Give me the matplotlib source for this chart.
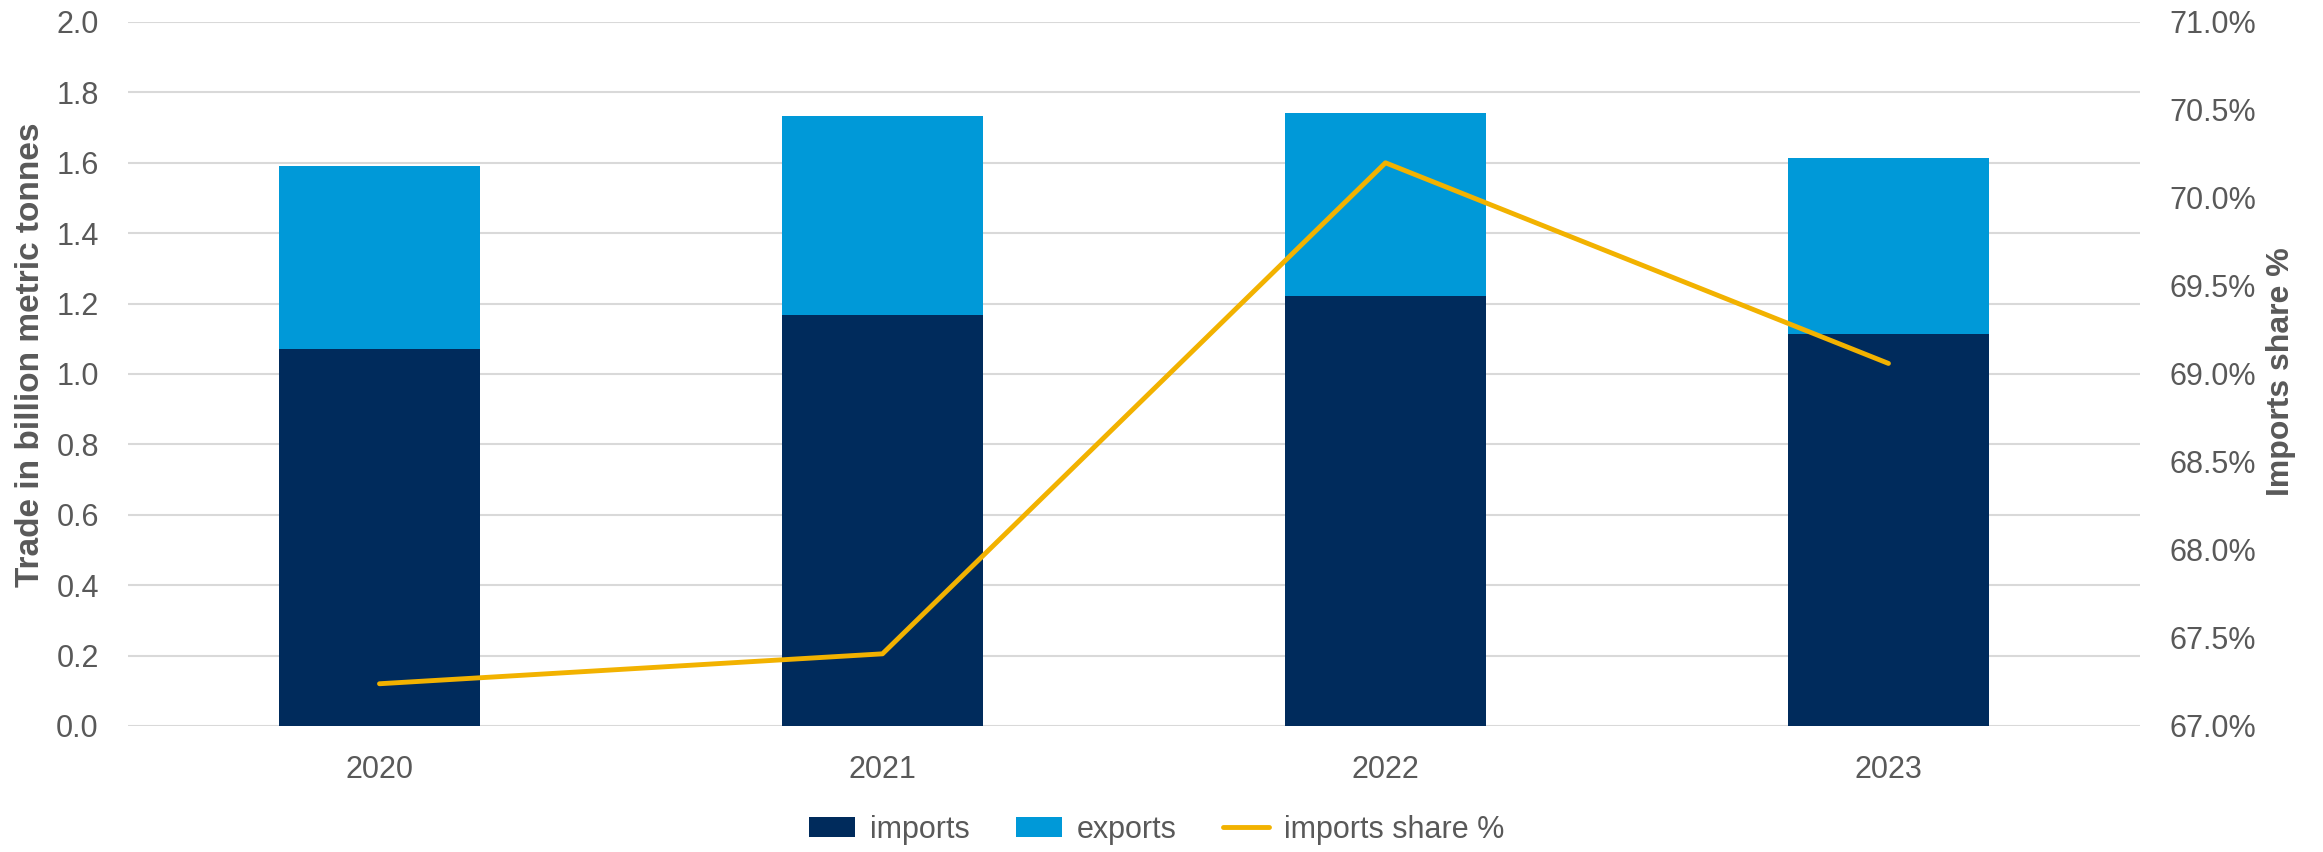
import matplotlib
matplotlib.use("Agg")
import matplotlib.pyplot as plt
from matplotlib.ticker import FuncFormatter

# data
years = ["2020", "2021", "2022", "2023"]
imports = [1.070, 1.167, 1.222, 1.114]
exports = [0.522, 0.566, 0.520, 0.501]
imports_share = [67.24, 67.41, 70.20, 69.06]

left_ticks = [0.0, 0.2, 0.4, 0.6, 0.8, 1.0, 1.2, 1.4, 1.6, 1.8, 2.0]
right_ticks = [67.0, 67.5, 68.0, 68.5, 69.0, 69.5, 70.0, 70.5, 71.0]

NAVY = "#002b5c"
BLUE = "#0099d8"
GOLD = "#f2b200"
GREY_TXT = "#595959"
GRID = "#d9d9d9"

plt.rcParams["font.family"] = ["Liberation Sans", "DejaVu Sans"]
label_font = ["Liberation Sans Narrow", "Liberation Sans", "DejaVu Sans"]

fig = plt.figure(figsize=(23.23, 8.52), dpi=100)
ax = fig.add_axes([0.0551, 0.1479, 0.9212 - 0.0551, 0.9742 - 0.1479])

x = list(range(len(years)))
b1 = ax.bar(x, imports, width=0.4, color=NAVY, label="imports", zorder=2)
b2 = ax.bar(x, exports, width=0.4, bottom=imports, color=BLUE, label="exports", zorder=2)

ax.set_xlim(-0.5, len(years) - 0.5)
ax.set_ylim(0, 2.0)
ax.set_yticks(left_ticks)
ax.yaxis.set_major_formatter(FuncFormatter(lambda v, p: f"{v:.1f}"))
ax.set_xticks(x)
ax.set_xticklabels(years)
ax.grid(axis="y", color=GRID, linewidth=1.5)
ax.set_axisbelow(True)
for s in ax.spines.values():
    s.set_visible(False)
ax.tick_params(axis="y", length=0, pad=21, labelsize=22, labelcolor=GREY_TXT)
ax.tick_params(axis="x", length=0, pad=21, labelsize=22, labelcolor=GREY_TXT)

ax.set_ylabel("Trade in billion metric tonnes", family=label_font, fontweight="bold",
              fontsize=24, color=GREY_TXT, va="center")
ax.yaxis.set_label_coords(-0.0487, 0.528)

ax2 = ax.twinx()
ln, = ax2.plot(x, imports_share, color=GOLD, linewidth=3.5, solid_capstyle="round",
               label="imports share %", zorder=3)
ax2.set_ylim(67.0, 71.0)
ax2.set_yticks(right_ticks)
ax2.yaxis.set_major_formatter(FuncFormatter(lambda v, p: f"{v:.1f}%"))
for s in ax2.spines.values():
    s.set_visible(False)
ax2.tick_params(axis="y", length=0, pad=21, labelsize=22, labelcolor=GREY_TXT)
ax2.set_ylabel("Imports share %", family=label_font, fontweight="bold",
               fontsize=23, color=GREY_TXT, va="center", rotation=90)
ax2.yaxis.set_label_coords(1.070, 0.503)

fig.legend([b1, b2, ln], ["imports", "exports", "imports share %"],
           loc="center", bbox_to_anchor=(0.498, 0.026), ncol=3, frameon=False,
           fontsize=22, handlelength=1.5, handleheight=0.63, handletextpad=0.5,
           columnspacing=1.5, labelcolor=GREY_TXT)

fig.savefig("out.png", dpi=100)
